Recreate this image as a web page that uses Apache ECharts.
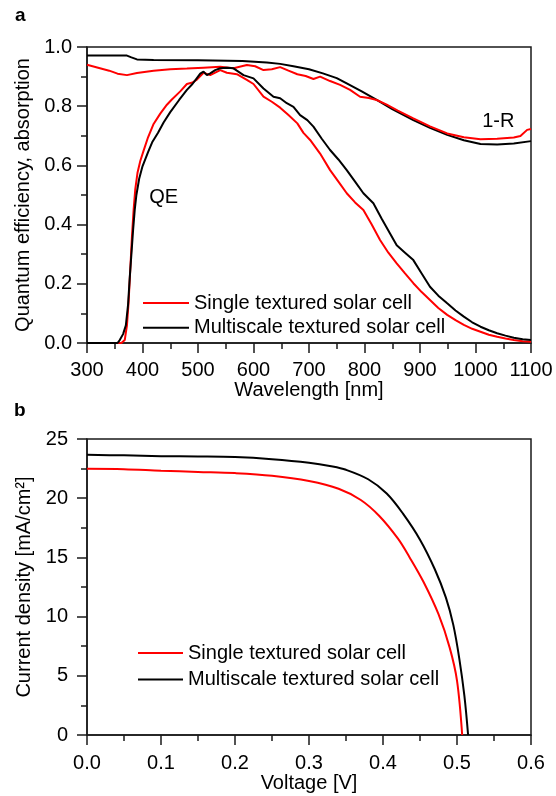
<!DOCTYPE html>
<html><head><meta charset="utf-8">
<script src="https://cdn.jsdelivr.net/npm/echarts@6/dist/echarts.min.js"></script>
<style>html,body{margin:0;padding:0;background:#fff}#c{width:556px;height:796px}</style>
</head><body><div id="c"></div>
<script>
// ---- Panel a: quantum efficiency and 1-R ----
const qeWlSingle = [300,350,362,368,372,375,378,381,384,387,391,396,402,410,420,432,444,452,468,480,490,498,510,522,540,552,570,588,600,618,633,648,663,679,690,702,720,738,753,768,783,798,813,828,843,858,873,888,903,918,933,949,964,979,994,1009,1024,1039,1054,1069,1085,1100];
const qeSingle   = [0,0,0,0.01,0.06,0.14,0.25,0.36,0.45,0.52,0.575,0.615,0.65,0.695,0.74,0.775,0.805,0.821,0.85,0.875,0.88,0.89,0.913,0.905,0.922,0.913,0.908,0.889,0.875,0.832,0.815,0.795,0.77,0.742,0.71,0.686,0.64,0.584,0.545,0.506,0.475,0.449,0.40,0.348,0.305,0.269,0.235,0.202,0.172,0.145,0.118,0.095,0.077,0.061,0.048,0.038,0.028,0.021,0.015,0.01,0.006,0.004];
const qeWlMulti  = [300,355,359,365,370,374,377,380,383,386,389,394,400,410,418,428,438,450,466,480,490,498,504,510,516,522,531,540,552,564,570,582,600,618,636,648,660,672,684,697,708,723,738,753,768,783,798,816,831,846,858,873,888,903,918,933,949,964,979,994,1009,1024,1039,1054,1069,1085,1100];
const qeMulti    = [0,0,0.01,0.03,0.06,0.13,0.22,0.3,0.38,0.45,0.5,0.555,0.597,0.645,0.68,0.71,0.745,0.78,0.821,0.855,0.875,0.895,0.91,0.917,0.905,0.911,0.922,0.928,0.93,0.928,0.92,0.905,0.894,0.86,0.832,0.827,0.81,0.798,0.77,0.753,0.731,0.69,0.652,0.62,0.584,0.545,0.506,0.472,0.42,0.37,0.33,0.305,0.28,0.235,0.19,0.16,0.134,0.11,0.089,0.07,0.055,0.043,0.033,0.025,0.018,0.013,0.01];
const rWlSingle  = [300,320,340,355,372,390,420,450,480,510,540,564,588,603,618,633,648,663,679,694,708,720,738,756,774,792,808,822,840,860,888,918,949,979,1009,1039,1069,1081,1093,1100];
const rSingle    = [0.94,0.93,0.92,0.91,0.905,0.912,0.92,0.925,0.927,0.93,0.933,0.928,0.939,0.935,0.922,0.925,0.932,0.92,0.908,0.902,0.892,0.9,0.885,0.872,0.855,0.832,0.828,0.821,0.805,0.785,0.759,0.732,0.708,0.695,0.688,0.69,0.694,0.699,0.72,0.723];
const rWlMulti   = [300,372,380,390,420,500,580,624,648,672,700,725,750,768,795,822,850,888,918,949,979,1009,1039,1069,1100];
const rMulti     = [0.971,0.971,0.965,0.958,0.956,0.955,0.953,0.948,0.943,0.935,0.925,0.911,0.895,0.877,0.85,0.821,0.79,0.753,0.727,0.703,0.685,0.672,0.671,0.674,0.682];

// ---- Panel b: J-V curves ----
const vSingle = [0,0.05,0.1,0.15,0.2,0.25,0.3,0.34,0.37,0.395,0.42,0.436,0.455,0.475,0.49,0.5,0.507];
const jSingle = [22.48,22.45,22.32,22.22,22.12,21.9,21.45,20.8,19.85,18.5,16.6,15.0,12.9,10.2,7.4,4.6,0];
const vMulti  = [0,0.05,0.1,0.15,0.2,0.25,0.3,0.33,0.35,0.38,0.405,0.427,0.45,0.47,0.485,0.495,0.503,0.51,0.515];
const jMulti  = [23.66,23.62,23.55,23.53,23.48,23.3,23.0,22.7,22.4,21.6,20.4,18.7,16.5,14.0,11.6,9.3,6.5,3.3,0];

const nameSingle = 'Single textured solar cell';
const nameMulti  = 'Multiscale textured solar cell';

const FONT = "'Liberation Sans', Arial, sans-serif";
const RED = '#ff0000', BLACK = '#000000';
const pairs = (xs, ys) => xs.map((x, i) => [x, ys[i]]);

const axisLineStyle = { color: '#1a1a1a', width: 1.5 };
function valueAxis(extra) {
  return Object.assign({
    type: 'value',
    axisLine: { show: true, onZero: false, lineStyle: axisLineStyle },
    axisTick: { show: true, inside: false, length: 10, lineStyle: axisLineStyle },
    minorTick: { show: true, splitNumber: 2, length: 6, lineStyle: axisLineStyle },
    splitLine: { show: false },
    minorSplitLine: { show: false },
    nameLocation: 'middle',
    nameTextStyle: { color: '#000', fontSize: 20, fontFamily: FONT }
  }, extra);
}
function line(name, data, color, xi, smooth) {
  return {
    type: 'line', name: name, data: data, xAxisIndex: xi, yAxisIndex: xi,
    showSymbol: false, symbol: 'none', smooth: smooth || false,
    color: color, itemStyle: { color: color },
    lineStyle: { color: color, width: 2 }, animation: false, z: 3
  };
}
const lbl = (margin, fmt) => ({ color: '#000', fontSize: 20, fontFamily: FONT, margin: margin, formatter: fmt });

const chart = echarts.init(document.getElementById('c'), null, { renderer: 'canvas' });
const legendBase = {
  orient: 'vertical', icon: 'rect', itemHeight: 2,
  textStyle: { color: '#000', fontSize: 20, fontFamily: FONT, lineHeight: 20 },
  data: [nameSingle, nameMulti], selectedMode: false
};
chart.setOption({
  animation: false,
  backgroundColor: '#fff',
  textStyle: { fontFamily: FONT },
  grid: [
    { left: 87, top: 47, width: 444, height: 296, show: true, borderColor: '#1a1a1a', borderWidth: 1.5, backgroundColor: 'transparent' },
    { left: 87, top: 439, width: 444, height: 296, show: true, borderColor: '#1a1a1a', borderWidth: 1.5, backgroundColor: 'transparent' }
  ],
  xAxis: [
    valueAxis({ gridIndex: 0, min: 300, max: 1100, interval: 100, name: 'Wavelength [nm]', nameGap: 34,
      axisLabel: lbl(17, v => String(v)) }),
    valueAxis({ gridIndex: 1, min: 0, max: 0.6, interval: 0.1, name: 'Voltage [V]', nameGap: 37,
      axisLabel: lbl(18, v => v.toFixed(1)) })
  ],
  yAxis: [
    valueAxis({ gridIndex: 0, min: 0, max: 1, interval: 0.2, name: 'Quantum efficiency, absorption', nameGap: 53,
      axisLabel: lbl(15, v => v.toFixed(1)) }),
    valueAxis({ gridIndex: 1, min: 0, max: 25, interval: 5, name: 'Current density [mA/cm²]', nameGap: 51,
      axisLabel: lbl(19, v => String(v)) })
  ],
  legend: [
    Object.assign({}, legendBase, { left: 138, top: 288, itemWidth: 46, itemGap: 4.7 }),
    Object.assign({}, legendBase, { left: 133, top: 638, itemWidth: 45, itemGap: 6.5 })
  ],
  series: [
    line(nameMulti, pairs(rWlMulti, rMulti), BLACK, 0),
    line(nameSingle, pairs(rWlSingle, rSingle), RED, 0),
    line(nameSingle, pairs(qeWlSingle, qeSingle), RED, 0),
    line(nameMulti, pairs(qeWlMulti, qeMulti), BLACK, 0),
    line(nameSingle, pairs(vSingle, jSingle), RED, 1, 0.35),
    line(nameMulti, pairs(vMulti, jMulti), BLACK, 1, 0.35)
  ]
});

// annotation labels placed in data coordinates
const qePos = chart.convertToPixel({ gridIndex: 0 }, [438, 0.493]);
const rPos = chart.convertToPixel({ gridIndex: 0 }, [1041, 0.75]);
const txt = (t, x, y, extra) => ({
  type: 'text', x: x, y: y,
  style: Object.assign({ text: t, fill: '#000', font: '20px ' + FONT, textAlign: 'center', textVerticalAlign: 'middle' }, extra || {})
});
chart.setOption({
  graphic: [
    txt('QE', qePos[0], qePos[1]),
    txt('1-R', rPos[0], rPos[1]),
    txt('a', 15, 16, { font: 'bold 19px ' + FONT, textAlign: 'left' }),
    txt('b', 14, 411, { font: 'bold 19px ' + FONT, textAlign: 'left' })
  ]
});
</script></body></html>
